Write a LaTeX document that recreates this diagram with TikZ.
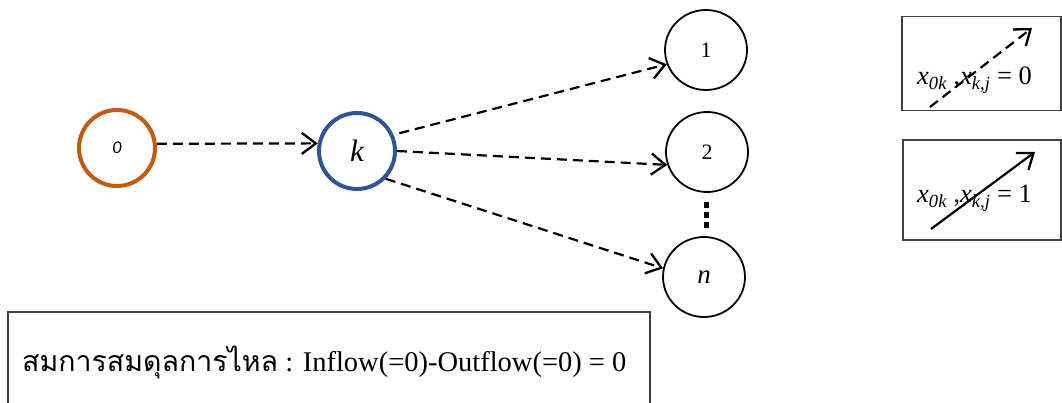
\documentclass[tikz,border=0pt]{standalone}
\usepackage{fontspec}
\setmainfont{Liberation Serif}
\newfontfamily\thaifont[Script=Thai]{Loma}
\newfontfamily\calib{Carlito}
\usetikzlibrary{arrows.meta,shapes.geometric}
\definecolor{orangeC}{RGB}{197,90,17}
\definecolor{blueC}{RGB}{47,85,151}
\tikzset{
  bignode/.style={circle, minimum size=76pt, inner sep=0pt, line width=4pt},
  endnode/.style={ellipse, minimum width=82pt, minimum height=80pt, inner sep=0pt, draw=black, line width=1.8pt},
  flow/.style={dashed, dash pattern=on 10pt off 6pt, line width=2.2pt, -{Straight Barb[length=14pt, width=21pt, line width=2.3pt]}},
  solidflow/.style={line width=2.2pt, -{Straight Barb[length=14pt, width=21pt, line width=2.3pt]}},
  legbox/.style={draw=black!75, line width=1.2pt},
  dotsq/.style={fill=black, minimum width=5pt, minimum height=6pt, inner sep=0pt}
}
\begin{document}
\begin{tikzpicture}[x=1pt, y=-1pt]
\useasboundingbox (0,0) rectangle (1062,403);
% main nodes
\node[bignode, draw=orangeC] (n0) at (117,148) {\calib\itshape\fontsize{18}{20}\selectfont 0};
\node[bignode, draw=blueC] (k) at (357,151) {\itshape\fontsize{31}{34}\selectfont k};
\node[endnode] (n1) at (706,50) {\fontsize{22}{24}\selectfont 1};
\node[endnode] (n2) at (707,152) {\fontsize{22}{24}\selectfont 2};
\node[endnode] (nn) at (704,277) {\itshape\fontsize{27}{30}\selectfont n};
% vertical dots
\node[dotsq] (d1) at (706,205) {};
\node[dotsq] (d2) at (706,215) {};
\node[dotsq] (d3) at (706,225) {};
% connectors
\draw[flow] (n0.6) -- (k.169);
\draw[flow, shorten <=6pt] (k.24) -- (n1.200);
\draw[flow] (k.0) -- (n2.198);
\draw[flow] (k.-44) -- (nn.168);
% legend box 1
\node[legbox, minimum width=159pt, minimum height=94pt, inner sep=0pt] (lb1) at (981.5,63.5) {};
\node[anchor=base west, inner sep=0pt] (lt1) at (917,85) {\fontsize{26.5}{30}\selectfont\itshape x\textsubscript{0k}\upshape{} ,\itshape x\textsubscript{k,j}\upshape{} = 0};
\coordinate (a1s) at (930,107);
\coordinate (a1e) at (1032,28);
\draw[flow] (a1s) -- (a1e);
% legend box 2
\node[legbox, minimum width=158pt, minimum height=100pt, inner sep=0pt] (lb2) at (982,190) {};
\node[anchor=base west, inner sep=0pt] (lt2) at (917,203) {\fontsize{26.5}{30}\selectfont\itshape x\textsubscript{0k}\upshape{} ,\itshape x\textsubscript{k,j}\upshape{} = 1};
\coordinate (a2s) at (931,229);
\coordinate (a2e) at (1035,152);
\draw[solidflow] (a2s) -- (a2e);
% bottom box
\node[legbox, minimum width=642pt, minimum height=92pt, inner sep=0pt] (bb) at (329,358) {};
\node[anchor=base west, inner sep=0pt] (bt) at (22,371) {\fontsize{28.5}{32}\selectfont{\thaifont สมการสมดุลการไหล}\ : Inflow(=0)-Outflow(=0) = 0};
\end{tikzpicture}
\end{document}
